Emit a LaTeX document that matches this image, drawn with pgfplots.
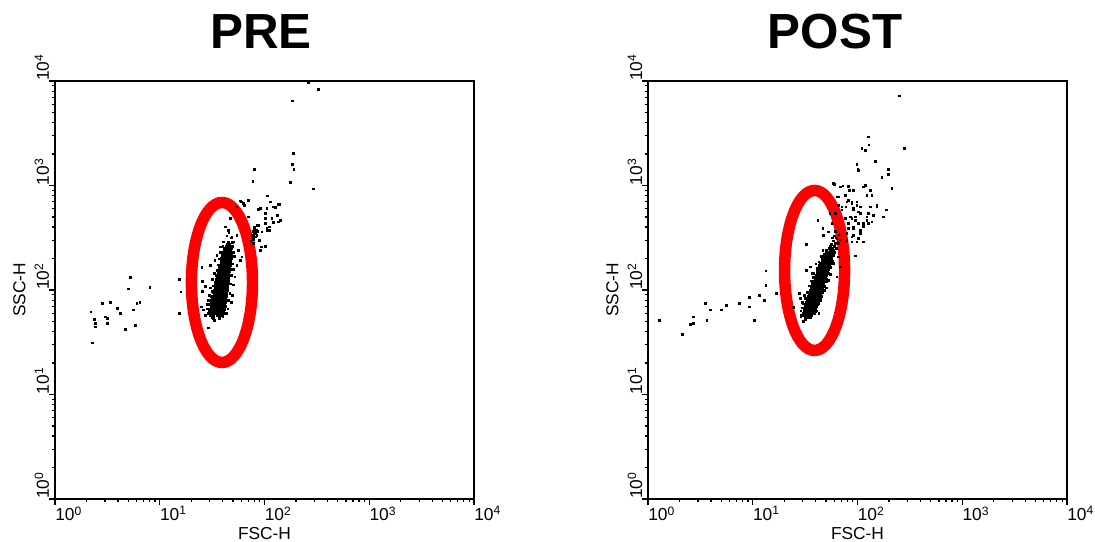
\documentclass[border=0pt]{standalone}
\usepackage{fontspec}
\setmainfont{Liberation Sans}
\usepackage{pgfplots}
\usepackage{pgfplotstable}
\pgfplotsset{compat=1.18}

% dense cores, one column per strand of the blob (log10 values, decades)
\pgfplotstableread{
ly a b c d e f g
1.76 1.478 1.512 1.545 1.575 nan nan nan
1.78 1.478 1.503 1.527 1.548 1.570 1.594 1.615
1.80 1.469 1.495 1.518 1.541 1.565 1.588 1.611
1.82 1.477 1.504 1.527 1.550 1.574 1.597 1.620
1.84 1.489 1.514 1.538 1.559 1.581 1.605 1.626
1.86 1.485 1.508 1.530 1.553 1.575 1.597 1.619
1.88 1.493 1.518 1.539 1.560 1.582 1.603 1.624
1.90 1.505 1.527 1.550 1.570 1.590 1.612 1.631
1.92 1.499 1.521 1.542 1.563 1.584 1.604 1.625
1.94 1.507 1.531 1.551 1.571 1.592 1.612 1.632
1.96 1.518 1.540 1.562 1.580 1.600 1.621 1.639
1.98 1.513 1.534 1.554 1.574 1.594 1.614 1.633
2.00 1.521 1.544 1.563 1.582 1.602 1.621 1.640
2.02 1.531 1.552 1.572 1.590 1.609 1.628 1.646
2.04 1.527 1.547 1.566 1.585 1.604 1.623 1.641
2.06 1.534 1.556 1.574 1.592 1.611 1.629 1.647
2.08 1.545 1.564 1.584 1.601 1.619 1.637 1.654
2.10 1.541 1.561 1.578 1.596 1.614 1.632 1.650
2.12 1.548 1.569 1.586 1.603 1.621 1.638 1.655
2.14 1.558 1.577 1.595 1.611 1.628 1.646 1.662
2.16 1.554 1.573 1.589 1.606 1.624 1.640 1.657
2.18 1.562 1.581 1.598 1.614 1.631 1.647 1.663
2.20 1.571 1.589 1.606 1.621 1.637 1.654 1.669
2.22 1.569 1.586 1.601 1.618 1.634 1.649 1.665
2.24 1.576 1.594 1.610 1.625 1.641 1.656 1.671
2.26 1.585 1.601 1.618 1.632 1.647 1.662 1.676
2.28 1.583 1.599 1.614 1.629 1.644 1.659 1.673
2.30 1.589 1.606 1.621 1.635 1.650 1.664 1.678
2.32 1.598 1.614 1.629 1.642 1.656 1.671 1.684
2.34 1.597 1.612 1.625 1.639 1.653 1.666 1.680
2.36 1.605 1.620 1.633 1.646 1.659 1.671 1.684
2.38 1.614 nan 1.640 1.652 nan 1.677 nan
2.40 1.620 nan 1.645 nan 1.662 nan 1.683
2.42 nan 1.635 nan 1.660 nan 1.680 nan
2.44 1.645 nan nan 1.668 nan nan nan
2.46 nan nan 1.655 nan nan 1.690 nan
}\coreL

\pgfplotstableread{
ly a b c d e f g
1.74 nan 1.505 nan 1.525 nan 1.545 nan
1.76 1.481 1.497 1.511 1.526 1.541 1.555 nan
1.78 1.485 1.504 1.520 1.536 1.553 1.568 1.584
1.80 1.495 1.513 1.532 1.547 1.564 1.581 1.597
1.82 1.491 1.510 1.527 1.545 1.563 1.580 1.598
1.84 1.500 1.521 1.539 1.556 1.574 1.591 1.609
1.86 1.511 1.530 1.550 1.567 1.585 1.603 1.620
1.88 1.509 1.529 1.547 1.565 1.584 1.602 1.620
1.90 1.519 1.540 1.558 1.576 1.595 1.612 1.630
1.92 1.531 1.550 1.570 1.587 1.605 1.623 1.640
1.94 1.529 1.549 1.567 1.585 1.604 1.622 1.640
1.96 1.538 1.559 1.577 1.595 1.614 1.631 1.649
1.98 1.551 1.570 1.590 1.607 1.625 1.643 1.660
2.00 1.549 1.569 1.587 1.605 1.624 1.642 1.660
2.02 1.559 1.580 1.598 1.615 1.633 1.650 1.668
2.04 1.572 1.591 1.610 1.627 1.644 1.662 1.679
2.06 1.570 1.589 1.606 1.624 1.642 1.659 1.677
2.08 1.580 1.601 1.618 1.635 1.653 1.670 1.687
2.10 1.593 1.612 1.630 1.646 1.663 1.681 1.697
2.12 1.592 1.611 1.627 1.644 1.662 1.678 1.695
2.14 1.603 1.622 1.639 1.655 1.672 1.688 1.704
2.16 1.615 1.633 1.650 1.665 1.681 1.698 1.713
2.18 1.616 1.633 1.648 1.665 1.681 1.696 1.712
2.20 1.626 1.644 1.660 1.675 1.691 1.706 1.721
2.22 1.638 1.654 1.671 1.685 1.700 1.715 1.729
2.24 1.639 1.655 1.670 1.685 1.700 1.715 1.729
2.26 1.648 1.665 1.680 1.694 1.709 1.723 1.737
2.28 1.660 1.676 1.691 1.704 1.718 1.733 1.746
2.30 1.663 1.678 1.691 1.705 1.719 1.732 1.746
2.32 1.673 1.688 1.701 1.714 1.727 1.739 1.752
2.34 1.682 nan 1.708 1.721 nan 1.745 nan
2.36 nan 1.700 nan 1.730 nan 1.752 nan
2.38 1.705 nan nan 1.738 nan nan 1.760
2.40 nan nan 1.735 nan 1.755 nan nan
}\coreR

\newcommand{\tl}{\fontsize{13}{15}\selectfont}
\newcommand{\dec}[1]{10\textsuperscript{#1}}

\pgfplotsset{
  facs/.style={
    scale only axis, width=314.25pt, height=313.5pt,
    xmin=0, xmax=4, ymin=0, ymax=4,
    axis line style={line width=1.2pt},
    xtick={0,1,2,3,4}, ytick={0,1,2,3,4},
    xticklabels={\dec{0},\dec{1},\dec{2},\dec{3},\dec{4}},
    yticklabels={\dec{0},\dec{1},\dec{2},\dec{3},\dec{4}},
    minor xtick={0.301,0.477,0.602,0.699,0.778,0.845,0.903,0.954,
                 1.301,1.477,1.602,1.699,1.778,1.845,1.903,1.954,
                 2.301,2.477,2.602,2.699,2.778,2.845,2.903,2.954,
                 3.301,3.477,3.602,3.699,3.778,3.845,3.903,3.954},
    minor ytick={0.301,0.477,0.602,0.699,0.778,0.845,0.903,0.954,
                 1.301,1.477,1.602,1.699,1.778,1.845,1.903,1.954,
                 2.301,2.477,2.602,2.699,2.778,2.845,2.903,2.954,
                 3.301,3.477,3.602,3.699,3.778,3.845,3.903,3.954},
    tick align=outside, xtick pos=bottom, ytick pos=left,
    major tick length=4.5pt, minor tick length=2.3pt,
    every tick/.style={black, line width=0.9pt},
    tick label style={font=\tl},
    xticklabel style={anchor=north west, inner sep=0pt, yshift=-1pt},
    yticklabel style={rotate=90, anchor=base west, inner sep=0pt},
    label style={font=\tl},
    xlabel={FSC-H}, ylabel={SSC-H},
    xlabel style={at={(axis description cs:0.5,-0.083)}, anchor=center},
    ylabel style={at={(axis description cs:-0.085,0.5)}, anchor=center},
  },
  pts/.style={only marks, mark=square*, mark size=0.75pt, black},
  spts/.style={only marks, mark=square*, mark size=0.6pt, black},
}

\begin{document}
\begin{tikzpicture}
\path[use as bounding box] (0,0) rectangle (821.25pt,406.5pt);

\node[font=\fontsize{37}{40}\selectfont\bfseries, anchor=base] at (195.75pt,369.75pt) {PRE};
\node[font=\fontsize{37}{40}\selectfont\bfseries, anchor=base] at (626.25pt,369.75pt) {POST};

% --- PRE ---
\begin{axis}[facs, at={(41.25pt,32.25pt)}, anchor=south west]
  \pgfplotsinvokeforeach{a,b,c,d,e,f,g}{\addplot[pts] table[x=#1,y=ly]{\coreL};}
  \addplot[spts] coordinates {
    (2.418,3.984) (2.514,3.921) (2.263,3.811) (2.275,3.308) (2.263,3.203) (2.279,3.155)
    (2.246,3.031) (2.466,2.967) (1.900,3.155) (1.887,3.043)
    (2.027,2.902) (1.776,2.845) (1.798,2.830) (1.807,2.813) (2.053,2.845) (2.084,2.797)
    (2.141,2.823) (1.957,2.782) (2.005,2.734) (1.846,2.701) (2.116,2.718) (2.069,2.686)
    (2.132,2.654) (2.005,2.638) (1.941,2.622) (2.046,2.606) (2.021,2.574) (1.973,2.558)
    (1.916,2.574) (1.900,2.542) (1.909,2.510) (1.893,2.485) (1.926,2.526) (1.967,2.414)
    (2.005,2.421) (1.948,2.478) (1.734,2.797) (1.846,2.861) (2.021,2.782) (1.766,2.855)
    (2.100,2.791) (2.132,2.823) (2.122,2.718) (2.148,2.670) (2.084,2.648) (2.008,2.686)
    (1.941,2.775) (2.021,2.590) (2.046,2.574) (1.957,2.383) (1.926,2.622) (1.909,2.542)
    (1.885,2.50) (1.895,2.52) (1.905,2.54) (1.890,2.56) (1.900,2.58) (1.915,2.55)
    (1.880,2.53) (1.910,2.51) (1.920,2.57) (1.895,2.49) (1.905,2.60) (1.925,2.53)
    (1.870,2.47) (1.935,2.56) (1.890,2.45)
    (1.184,2.105) (1.200,1.984) (1.184,1.777) (1.400,2.217) (1.406,2.086) (1.432,2.038)
    (1.406,1.990) (1.394,1.840) (1.416,1.809) (1.432,1.761) (1.464,1.639) (1.512,1.729)
    (1.569,1.729) (1.639,1.777) (1.623,2.606) (1.655,2.574) (1.687,2.510) (1.734,2.526)
    (1.750,2.383) (1.782,2.319) (1.766,2.287) (1.734,2.239) (1.718,2.127) (1.480,2.239)
    (1.527,2.287) (1.543,2.335) (1.575,2.414) (1.607,2.462) (1.671,2.686) (1.464,1.904)
    (1.454,1.866) (1.496,1.809) (1.543,1.792)
    (1.70,2.05) (1.69,1.95) (1.68,1.88) (1.47,1.95) (1.48,2.02) (1.50,2.10) (1.52,2.16)
    (1.70,2.20) (1.71,2.32) (1.69,2.42)
    (1.46,1.78) (1.45,1.82) (1.47,1.86) (1.48,1.90) (1.49,1.94) (1.50,1.99) (1.51,2.04)
    (1.53,2.08) (1.54,2.14) (1.55,2.19) (1.56,2.24) (1.57,2.30) (1.58,2.36) (1.60,2.42)
    (1.65,1.82) (1.66,1.90) (1.67,1.97) (1.675,2.06) (1.685,2.14) (1.69,2.25) (1.70,2.36)
    (1.70,2.46) (1.68,2.50) (1.64,2.52) (1.66,2.55) (1.50,1.74) (1.55,1.76) (1.60,1.75)
    (1.52,1.71)
    (0.716,2.122) (0.700,2.012) (0.904,2.029) (0.452,1.873) (0.528,1.885) (0.341,1.792)
    (0.592,1.825) (0.623,1.777) (0.372,1.720) (0.385,1.681) (0.385,1.649) (0.480,1.745)
    (0.499,1.729) (0.499,1.681) (0.747,1.809) (0.780,1.873) (0.809,1.885) (0.671,1.624)
    (0.764,1.665) (0.356,1.496)
  };
  \draw[red, line width=8.6pt] (axis cs:1.594,2.072) ellipse [x radius=22.9pt, y radius=60pt];
\end{axis}

% --- POST ---
\begin{axis}[facs, at={(486pt,32.25pt)}, anchor=south west]
  \pgfplotsinvokeforeach{a,b,c,d,e,f,g}{\addplot[pts] table[x=#1,y=ly]{\coreR};}
  \addplot[spts] coordinates {
    (2.399,3.859) (2.103,3.467) (2.107,3.388) (2.040,3.356) (2.072,3.340) (2.444,3.356)
    (2.167,3.234) (1.992,3.203) (2.002,3.158) (2.294,3.158) (2.291,3.107) (2.231,3.075)
    (2.326,2.967) (2.072,3.005) (2.056,2.989) (1.779,3.014) (1.913,2.995) (1.833,2.989)
    (1.960,2.957) (2.135,2.909) (2.183,2.813) (2.269,2.766) (2.151,2.718) (2.247,2.702)
    (2.088,2.670) (2.056,2.638) (2.103,2.734) (2.024,2.797) (1.992,2.845) (1.913,2.861)
    (1.881,2.909) (1.807,2.893) (1.960,2.782) (2.008,2.749) (1.976,2.702) (1.928,2.702)
    (2.056,2.606) (2.024,2.542) (2.056,2.462) (1.992,2.462) (1.945,2.462) (1.976,2.328)
    (1.913,2.590) (1.897,2.542) (1.849,2.766) (1.887,2.797) (1.945,2.830) (1.976,2.670)
    (2.008,2.638) (2.103,2.638) (2.135,2.654) (1.960,2.590) (1.960,2.526)
    (1.508,2.191) (1.508,2.440) (1.620,2.670) (1.668,2.590) (1.674,2.526) (1.721,2.558)
    (1.754,2.638) (1.785,2.734) (1.737,2.734) (1.801,2.495) (1.817,2.447) (1.833,2.223)
    (1.817,2.319) (1.801,2.127) (1.547,2.223) (1.563,2.160) (1.444,1.968) (1.451,1.921)
    (1.387,1.834) (1.458,1.745) (1.508,1.751) (1.530,1.792) (1.626,1.873) (1.674,2.000)
    (1.721,2.096) (1.769,2.256) (1.897,2.478) (1.945,2.510) (1.960,2.606) (1.913,2.638)
    (2.024,2.574) (2.008,2.495) (1.881,2.686) (1.817,2.813) (1.897,2.845) (1.769,3.021)
    (1.859,2.998) (1.922,2.957) (1.817,2.893) (1.849,2.797) (1.945,2.845) (1.992,2.813)
    (2.088,2.909) (2.119,2.957) (2.183,2.797) (2.119,2.797) (2.088,2.702) (2.151,2.718)
    (2.279,2.766) (2.326,2.973) (2.231,3.084) (2.294,3.110) (2.008,3.148) (2.056,2.622)
    (1.945,2.686) (1.960,2.766) (2.024,2.734)
    (1.76,2.40) (1.78,2.42) (1.79,2.45) (1.77,2.47) (1.80,2.50) (1.75,2.44) (1.81,2.46)
    (1.78,2.52) (1.82,2.53) (1.79,2.56) (1.76,2.50) (1.80,2.40) (1.83,2.48) (1.74,2.42)
    (1.77,2.38)
    (1.46,1.80) (1.47,1.88) (1.49,1.95) (1.63,1.78) (1.65,1.90) (1.70,2.02) (1.74,2.15)
    (1.76,2.28) (1.58,2.12) (1.60,2.25)
    (1.46,1.76) (1.47,1.83) (1.48,1.87) (1.50,1.92) (1.52,1.98) (1.54,2.04) (1.56,2.09)
    (1.58,2.16) (1.61,2.21) (1.63,2.27) (1.65,2.32) (1.67,2.38) (1.61,1.80) (1.62,1.86)
    (1.66,1.94) (1.68,2.00) (1.70,2.08) (1.72,2.16) (1.74,2.22) (1.77,2.33) (1.78,2.36)
    (1.50,1.72) (1.55,1.74) (1.48,1.70)
    (0.108,1.713) (0.325,1.576) (0.401,1.672) (0.433,1.684) (0.433,1.745) (0.544,1.873)
    (0.592,1.809) (0.560,1.713) (0.697,1.809) (0.745,1.856) (0.872,1.873) (0.964,1.930)
    (0.964,1.840) (1.012,1.713) (1.060,1.952) (1.107,1.904) (1.124,2.048) (1.124,2.185)
    (1.222,1.968)
  };
  \draw[red, line width=8.6pt] (axis cs:1.590,2.187) ellipse [x radius=22.5pt, y radius=60pt];
\end{axis}
\end{tikzpicture}
\end{document}
